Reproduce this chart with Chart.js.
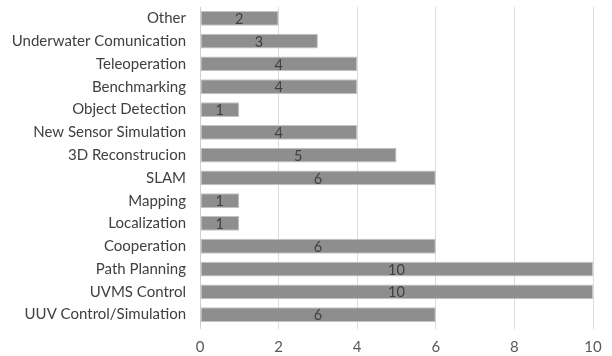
<!DOCTYPE html>
<html>
<head>
<meta charset="utf-8">
<script src="https://cdn.jsdelivr.net/npm/chart.js@4/dist/chart.umd.min.js"></script>
<style>
  html, body { margin: 0; padding: 0; background: #ffffff; }
  #wrap { width: 612px; height: 356px; position: relative; }
</style>
</head>
<body>
<div id="wrap"><canvas id="c" width="612" height="356"></canvas></div>
<script>
// Topics and number of works per topic
const categories = [
  "Other",
  "Underwater Comunication",
  "Teleoperation",
  "Benchmarking",
  "Object Detection",
  "New Sensor Simulation",
  "3D Reconstrucion",
  "SLAM",
  "Mapping",
  "Localization",
  "Cooperation",
  "Path Planning",
  "UVMS Control",
  "UUV Control/Simulation"
];
const counts = [2, 3, 4, 4, 1, 4, 5, 6, 1, 1, 6, 10, 10, 6];
const xTicks = [0, 2, 4, 6, 8, 10];

const FONT = "Lato, 'Open Sans', sans-serif";

// Writes each bar's value in the middle of the bar
const valueLabels = {
  id: 'valueLabels',
  afterDatasetsDraw(chart) {
    const ctx = chart.ctx;
    const meta = chart.getDatasetMeta(0);
    ctx.save();
    ctx.font = "14.5px " + FONT;
    ctx.fillStyle = "#404040";
    ctx.textAlign = "center";
    ctx.textBaseline = "middle";
    meta.data.forEach((bar, i) => {
      const v = chart.data.datasets[0].data[i];
      const x0 = chart.scales.x.getPixelForValue(0);
      ctx.fillText(String(v), (bar.x + x0) / 2, bar.y + 1);
    });
    ctx.restore();
  }
};

new Chart(document.getElementById('c'), {
  type: 'bar',
  data: {
    labels: categories,
    datasets: [{
      data: counts,
      backgroundColor: '#8e8e8e',
      borderColor: '#c4c4c4',
      borderWidth: 1,
      borderSkipped: false,
      barPercentage: 0.65,
      categoryPercentage: 1.0
    }]
  },
  options: {
    indexAxis: 'y',
    responsive: false,
    animation: false,
    devicePixelRatio: 1,
    layout: { padding: { top: 7, right: 19, bottom: 0, left: 0 } },
    plugins: {
      legend: { display: false },
      tooltip: { enabled: false }
    },
    scales: {
      x: {
        min: 0,
        max: 10,
        z: 1,
        afterBuildTicks(scale) {
          scale.ticks = xTicks.map(v => ({ value: v }));
        },
        afterFit(scale) {
          scale.height = 30;
          scale.paddingLeft = 0;
          scale.paddingRight = 0;
        },
        grid: {
          color: '#dcdcdc',
          lineWidth: 1,
          drawTicks: true,
          tickLength: 3,
          tickColor: '#dcdcdc'
        },
        border: { display: false },
        ticks: {
          color: '#595959',
          font: { family: FONT, size: 15 },
          padding: 9
        }
      },
      y: {
        afterFit(scale) {
          scale.width = 200;
          scale.paddingTop = 0;
          scale.paddingBottom = 0;
        },
        grid: { display: false },
        border: { display: true, color: '#d0d0d0', width: 1 },
        ticks: {
          color: '#404040',
          font: { family: FONT, size: 15 },
          padding: 6
        }
      }
    }
  },
  plugins: [valueLabels]
});
</script>
</body>
</html>
